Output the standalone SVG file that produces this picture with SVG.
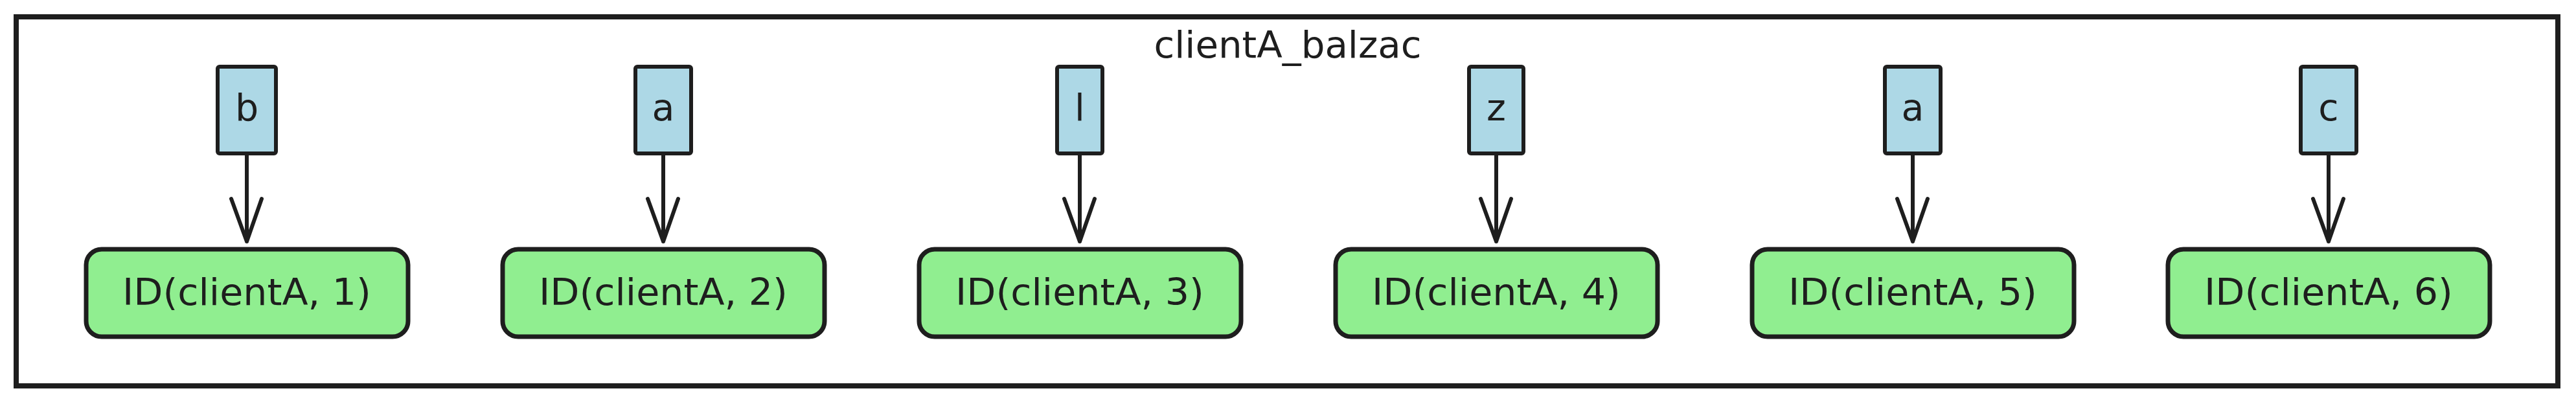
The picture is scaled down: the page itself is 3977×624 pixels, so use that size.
<svg xmlns="http://www.w3.org/2000/svg" width="3977" height="624" viewBox="0 0 3977 624">
<style>
.frame{fill:#ffffff;stroke:#1e1e1e;stroke-width:8}
.key{fill:#add8e6;stroke:#1e1e1e;stroke-width:6;stroke-linejoin:round}
.id{fill:#90ee90;stroke:#1e1e1e;stroke-width:7}
.edge{fill:none;stroke:#1e1e1e;stroke-width:6;stroke-linecap:round;stroke-linejoin:round}
text{font-family:"DejaVu Sans","Liberation Sans",sans-serif;fill:#1e1e1e;text-anchor:middle}
.lbl{font-size:57px}
.ttl{font-size:57px}
</style>
<rect width="3977" height="624" fill="#ffffff"/>
<g id="frame">
<rect class="frame" x="25" y="26" width="3924" height="570"/>
<text class="ttl" x="1988" y="89" textLength="413" lengthAdjust="spacingAndGlyphs">clientA_balzac</text>
</g>
<g id="connectors">
<path class="edge" d="M381 237 L381 373 M357 307 L381 373 L404 307"/>
<path class="edge" d="M1024 237 L1024 373 M1000 307 L1024 373 L1047 307"/>
<path class="edge" d="M1667 237 L1667 373 M1643 307 L1667 373 L1690 307"/>
<path class="edge" d="M2310 237 L2310 373 M2286 307 L2310 373 L2333 307"/>
<path class="edge" d="M2953 237 L2953 373 M2929 307 L2953 373 L2976 307"/>
<path class="edge" d="M3595 237 L3595 373 M3571 307 L3595 373 L3618 307"/>
</g>
<g id="key1"><rect class="key" x="336" y="103" width="90" height="134" rx="3"/><text class="lbl" x="381" y="186">b</text></g>
<g id="key2"><rect class="key" x="981" y="103" width="86" height="134" rx="3"/><text class="lbl" x="1024" y="186">a</text></g>
<g id="key3"><rect class="key" x="1632" y="103" width="70" height="134" rx="3"/><text class="lbl" x="1667" y="186">l</text></g>
<g id="key4"><rect class="key" x="2268" y="103" width="84" height="134" rx="3"/><text class="lbl" x="2310" y="186">z</text></g>
<g id="key5"><rect class="key" x="2910" y="103" width="86" height="134" rx="3"/><text class="lbl" x="2953" y="186">a</text></g>
<g id="key6"><rect class="key" x="3552" y="103" width="86" height="134" rx="3"/><text class="lbl" x="3595" y="186">c</text></g>
<g id="id1"><rect class="id" x="133" y="385" width="497" height="135" rx="24"/><text class="lbl" x="381" y="471" textLength="384" lengthAdjust="spacingAndGlyphs">ID(clientA, 1)</text></g>
<g id="id2"><rect class="id" x="776" y="385" width="497" height="135" rx="24"/><text class="lbl" x="1024" y="471" textLength="384" lengthAdjust="spacingAndGlyphs">ID(clientA, 2)</text></g>
<g id="id3"><rect class="id" x="1419" y="385" width="497" height="135" rx="24"/><text class="lbl" x="1667" y="471" textLength="384" lengthAdjust="spacingAndGlyphs">ID(clientA, 3)</text></g>
<g id="id4"><rect class="id" x="2062" y="385" width="497" height="135" rx="24"/><text class="lbl" x="2310" y="471" textLength="384" lengthAdjust="spacingAndGlyphs">ID(clientA, 4)</text></g>
<g id="id5"><rect class="id" x="2705" y="385" width="497" height="135" rx="24"/><text class="lbl" x="2953" y="471" textLength="384" lengthAdjust="spacingAndGlyphs">ID(clientA, 5)</text></g>
<g id="id6"><rect class="id" x="3347" y="385" width="497" height="135" rx="24"/><text class="lbl" x="3595" y="471" textLength="384" lengthAdjust="spacingAndGlyphs">ID(clientA, 6)</text></g>
</svg>
